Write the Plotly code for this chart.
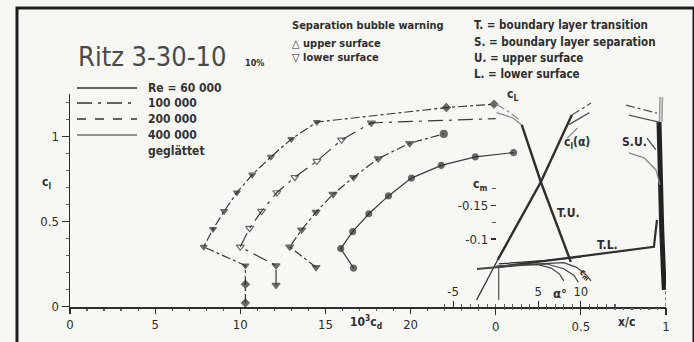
import plotly.graph_objects as go

W, H = 694, 342          # reference picture size (all positions below are given in it)
FIG_W, FIG_H = 702, 349  # rendered canvas (the photograph is taken of this area)

# ---------------- data ----------------
# drag polars  (10^3 c_d , c_l)
cd_a = [10.3, 10.3, 10.3, 7.85, 8.4, 9.05, 9.8, 10.7, 11.8, 13.0, 14.5, 22.1, 24.9]
cl_a = [0.02, 0.13, 0.24, 0.35, 0.455, 0.56, 0.67, 0.775, 0.88, 0.985, 1.085, 1.17, 1.19]
cd_b = [12.1, 12.1, 10.0, 10.55, 11.25, 12.15, 13.2, 14.5, 15.95, 17.7, 25.0]
cl_b = [0.125, 0.24, 0.35, 0.46, 0.56, 0.67, 0.76, 0.855, 0.98, 1.08, 1.105]
cd_c = [14.45, 12.9, 13.6, 14.45, 15.45, 16.65, 18.1, 19.95, 21.95]
cl_c = [0.23, 0.35, 0.45, 0.555, 0.66, 0.76, 0.87, 0.96, 1.015]
cd_d = [16.65, 15.9, 16.6, 17.55, 18.7, 20.05, 21.8, 23.8, 26.05]
cl_d = [0.225, 0.34, 0.44, 0.545, 0.65, 0.755, 0.83, 0.88, 0.905]

# transition / separation locations (x/c , c_l)
tu_x = [0.153, 0.265, 0.441]
tu_cl = [1.068, 0.732, 0.262]
tu_b1_x = [0.005, 0.07, 0.15]
tu_b1_cl = [1.19, 1.15, 1.09]
tu_b2_x = [0.005, 0.10, 0.153]
tu_b2_cl = [1.14, 1.11, 1.068]
tl_x = [0.018, 0.45, 0.929, 0.947]
tl_cl = [0.232, 0.29, 0.35, 0.509]
tl2_x = [0.018, 0.3, 0.5]
tl2_cl = [0.25, 0.27, 0.29]
tlv_x = [0.018, 0.018]
tlv_cl = [0.232, 0.038]
su_x = [0.959, 0.962, 0.967, 0.975, 0.985, 0.99]
su_cl = [1.085, 0.9, 0.7, 0.45, 0.2, 0.097]
su_top1_x = [0.962, 0.965]
su_top1_cl = [1.085, 1.232]
su_top2_x = [0.976, 0.979]
su_top2_cl = [1.085, 1.232]
su_b1_x = [0.765, 0.947]
su_b1_cl = [1.185, 1.138]
su_b2_x = [0.782, 0.959]
su_b2_cl = [1.126, 1.085]
su_b3_x = [0.782, 0.871, 0.941, 0.965]
su_b3_cl = [0.903, 0.874, 0.803, 0.715]
su_b4_x = [0.888, 0.941]
su_b4_cl = [0.991, 0.921]

# lift curve (alpha , c_l)
al_lo = [-2.24, 0.24]
cl_lo = [0.038, 0.274]
al_main = [0.24, 5.3, 8.94]
cl_main = [0.274, 0.732, 1.126]
al_t1 = [8.94, 11.2]
cl_t1 = [1.126, 1.197]
al_t2 = [8.6, 10.4, 11.0]
cl_t2 = [1.07, 1.126, 1.14]
al_t3 = [8.4, 9.6]
cl_t3 = [0.99, 1.05]

# moment curves (alpha , c_m)
al_m1 = [-2.2, 0, 3, 5, 6.5, 7.5, 8.0]
cm_m1 = [-0.055, -0.058, -0.061, -0.062, -0.057, -0.048, -0.038]
al_m2 = [-2.2, 0, 3, 6, 8, 9.2, 9.7]
cm_m2 = [-0.056, -0.059, -0.062, -0.063, -0.056, -0.046, -0.036]
al_m3 = [0, 4, 8, 9.5, 10.6, 11.2]
cm_m3 = [-0.060, -0.063, -0.065, -0.058, -0.047, -0.038]

cd_ticks = [0, 5, 10, 15, 20]
xc_ticks = [0, 0.5, 1]
cl_ticks = [0, 0.5, 1]
al_ticks = [-5, 5, 10]
cm_ticks = [-0.15, -0.1]
cm_minor_ticks = [-0.175, -0.125]
legend_labels = ["Re = 60 000", "100 000", "200 000", "400 000", "geglättet"]

# ---------------- styling ----------------
FONT = "DejaVu Sans Condensed, Liberation Sans Narrow, DejaVu Sans, sans-serif"
INK = "#2e2e2e"
GREY = "#8a8a8a"
BG = "#f7f7f4"

def px(x):
    return x / W

def py(y):
    return 1 - y / H

fig = go.Figure()

def line(x, y, xa="x", ya="y", width=1.2, dash="solid", color=INK):
    fig.add_trace(go.Scatter(x=x, y=y, xaxis=xa, yaxis=ya, mode="lines",
                             line=dict(color=color, width=width, dash=dash),
                             hoverinfo="skip", showlegend=False))

def polar(x, y, symbols, sizes, dash):
    fig.add_trace(go.Scatter(x=x, y=y, mode="lines+markers",
                             line=dict(color="#3a3a3a", width=1.2, dash=dash),
                             marker=dict(symbol=symbols, size=sizes, color=INK,
                                         line=dict(color=INK, width=1.2)),
                             hoverinfo="skip", showlegend=False))

polar(cd_a, cl_a, ["diamond", "diamond"] + ["triangle-down"] * 9 + ["diamond", "diamond"],
      [6] * 13, "dashdot")
polar(cd_b, cl_b, ["triangle-down", "triangle-down"] + ["triangle-down-open"] * 7 + ["triangle-down", "circle"],
      [7] * 10 + [0], "longdashdot")
polar(cd_c, cl_c, ["triangle-down"] * 8 + ["circle"], [7] * 9, "dashdot")
polar(cd_d, cl_d, ["circle"] * 9, [6] * 9, "solid")

# transition / separation
line(tu_b1_x, tu_b1_cl, "x2", width=1.2, dash="dashdot", color=GREY)
line(tu_b2_x, tu_b2_cl, "x2", width=1.2, color=GREY)
line(tu_x, tu_cl, "x2", width=2.4)
line(tl_x, tl_cl, "x2", width=2.2)
line(tl2_x, tl2_cl, "x2", width=1.2)
line(tlv_x, tlv_cl, "x2", width=1.0)
line(su_top1_x, su_top1_cl, "x2", width=1.5, color="#9a9a9a")
line(su_top2_x, su_top2_cl, "x2", width=1.5, color="#9a9a9a")
line(su_x, su_cl, "x2", width=5, color="#222222")
line(su_b1_x, su_b1_cl, "x2", width=1.3, dash="dashdot", color="#555")
line(su_b2_x, su_b2_cl, "x2", width=1.3, color="#555")
line(su_b3_x, su_b3_cl, "x2", width=1.3, color=GREY)
line(su_b4_x, su_b4_cl, "x2", width=1.3, color="#555")
line([1, 1], [0, 0.12], "x2", width=1.5, dash="dot", color="#555")

# lift curve
line(al_lo, cl_lo, "x3", width=1.2)
line(al_main, cl_main, "x3", width=2.4)
line(al_t1, cl_t1, "x3", width=1.3, dash="dashdot", color="#555")
line(al_t2, cl_t2, "x3", width=1.3, color="#555")
line(al_t3, cl_t3, "x3", width=1.3, color=GREY)

# moment curves
line(al_m1, cm_m1, "x3", "y3", width=1.2, color="#444")
line(al_m2, cm_m2, "x3", "y3", width=1.2, color="#444")
line(al_m3, cm_m3, "x3", "y3", width=1.2, color="#444")

# ---------------- axes ----------------
XDOM = [66 / W, 662 / W]
YDOM = [1 - 307 / H, 1 - 94 / H]
tickfont = dict(family=FONT, size=13, color=INK)
common = dict(showgrid=False, zeroline=False, tickcolor=INK, tickfont=tickfont)

cd_minor = [v for v in range(1, 25) if v % 5]
xc_minor = [round(0.05 * i, 2) for i in range(1, 20) if i != 10]
cl_minor = [round(0.1 * i, 1) for i in range(1, 13) if i not in (5, 10)]

fig.update_layout(
    width=FIG_W, height=FIG_H,
    margin=dict(l=0, r=0, t=0, b=0),
    paper_bgcolor=BG, plot_bgcolor=BG,
    font=dict(family=FONT, color=INK),
    showlegend=False,
    xaxis=dict(domain=XDOM, range=[0, 35], anchor="y", showline=True, linecolor=INK,
               linewidth=1.5, ticks="outside", ticklen=5, tickwidth=1.2,
               tickvals=cd_ticks, ticktext=[str(v) for v in cd_ticks],
               minor=dict(tickvals=cd_minor, ticks="outside", ticklen=2, tickcolor="#666"),
               **common),
    xaxis2=dict(domain=XDOM, range=[-2.5, 1], anchor="y", overlaying="x", showline=False,
                ticks="outside", ticklen=7, tickwidth=1.2,
                tickvals=xc_ticks, ticktext=["0", "0.5", "1"],
                minor=dict(tickvals=xc_minor, ticks="outside", ticklen=2, tickcolor="#666"),
                **common),
    xaxis3=dict(domain=XDOM, range=[-50, 20], anchor="free", position=YDOM[0],
                overlaying="x", side="top", showline=False,
                ticks="outside", ticklen=6, tickwidth=1.2,
                tickvals=al_ticks, ticktext=["-5", "5", "10"],
                minor=dict(tickvals=list(range(-6, 15)), ticks="outside", ticklen=3, tickcolor="#666"),
                **common),
    yaxis=dict(domain=YDOM, range=[-0.004, 1.25], anchor="x",
               side="left", showline=True, linecolor=INK,
               linewidth=1.5, ticks="outside", ticklen=7, tickwidth=1.2,
               tickvals=cl_ticks, ticktext=["0", "0.5", "1"],
               minor=dict(tickvals=cl_minor, ticks="outside", ticklen=3, tickcolor="#666"),
               **common),
    yaxis2=dict(domain=YDOM, range=[-0.004, 1.25], overlaying="y", anchor="free",
                position=491.7 / W, side="right", showline=True, linecolor=INK, linewidth=1.5,
                ticks="outside", ticklen=5, tickwidth=1.2, tickvals=[1], ticktext=["1"],
                minor=dict(tickvals=[0.8, 0.9, 1.1], ticks="outside", ticklen=3, tickcolor="#666"),
                **common),
    yaxis3=dict(domain=YDOM, range=[0.0007, -0.3148], overlaying="y", anchor="free",
                position=491.7 / W, side="left", showline=False,
                ticks="outside", ticklen=5, tickwidth=1.2,
                tickvals=cm_ticks, ticktext=["-0.15", "-0.1"],
                minor=dict(tickvals=cm_minor_ticks, ticks="outside", ticklen=4, tickcolor="#555"),
                **common),
)

# ---------------- frame & legend keys ----------------
shapes = [dict(type="rect", xref="paper", yref="paper", x0=px(13), x1=px(690),
               y0=-0.05, y1=py(8), line=dict(color="#1e1e1e", width=3))]
key_y = [88, 103, 119, 135]
key_dash = ["solid", "longdashdot", "dash", "solid"]
key_w = [1.3, 1.3, 1.3, 1.0]
for yk, dk, wk in zip(key_y, key_dash, key_w):
    shapes.append(dict(type="line", xref="paper", yref="paper", x0=px(73), x1=px(133),
                       y0=py(yk), y1=py(yk), line=dict(color="#333", width=wk, dash=dk)))
fig.update_layout(shapes=shapes)

# ---------------- texts ----------------
ann = []

def txt(x, y, s, size=12, anchor="left", bold=False, color=INK, angle=0):
    ann.append(dict(x=px(x), y=py(y), xref="paper", yref="paper", text=s, showarrow=False,
                    xanchor=anchor, yanchor="middle", textangle=angle,
                    font=dict(family=FONT, size=size, color=color,
                              weight="bold" if bold else "normal")))

txt(72, 57, "Ritz 3-30-10", size=27, color="#4a4a4a")
txt(239, 63, "10%", size=9, bold=True)
for yk, lab in zip(key_y + [151], legend_labels):
    txt(142, yk, lab, size=12, bold=True, color="#333")

txt(286, 26, "Separation bubble warning", size=11, bold=True)
txt(286, 43, "△ upper surface", size=11, bold=True)
txt(286, 58, "▽ lower surface", size=11, bold=True)
txt(468, 25, "T. = boundary layer transition", size=11.5, bold=True)
txt(468, 42, "S. = boundary layer separation", size=11.5, bold=True)
txt(468, 58, "U. = upper surface", size=11.5, bold=True)
txt(468, 74, "L. = lower surface", size=11.5, bold=True)

txt(42, 183, "c<sub>l</sub>", size=12, anchor="center", bold=True)
txt(508, 95, "c<sub>L</sub>", size=12, anchor="center", bold=True)
txt(476, 185, "c<sub>m</sub>", size=12, anchor="center", bold=True)
txt(573, 143, "c<sub>l</sub>(α)", size=12, anchor="center", bold=True)
txt(630, 142, "S.U.", size=12, anchor="center", bold=True)
txt(564, 213, "T.U.", size=12, anchor="center", bold=True)
txt(603, 245, "T.L.", size=12, anchor="center", bold=True)
txt(581, 274, "c<sub>m</sub>", size=9, anchor="center", bold=True, angle=40)
txt(556, 293, "α°", size=13, anchor="center", bold=True)
txt(362, 322, "10<sup>3</sup>c<sub>d</sub>", size=12, anchor="center", bold=True)
txt(622, 322, "x/c", size=12, anchor="center", bold=True)
fig.update_layout(annotations=ann)

fig.write_html(
    "out.html",
    config={"displayModeBar": False, "staticPlot": True},
    post_script=(
        "var s=document.createElement('style');"
        "s.textContent='html,body{margin:0;padding:0;overflow:hidden;}';"
        "document.head.appendChild(s);"
    ),
)
